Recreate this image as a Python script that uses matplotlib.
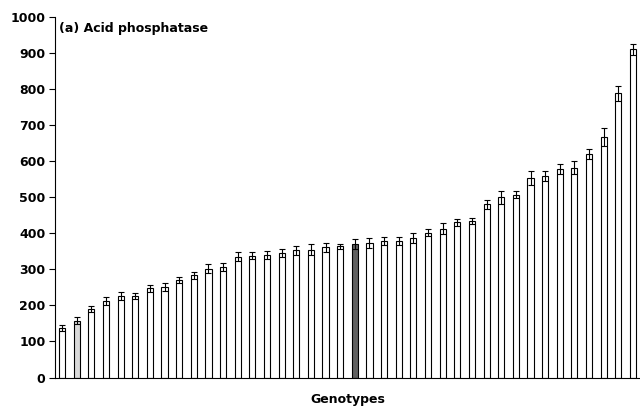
import matplotlib
matplotlib.use("Agg")
import matplotlib.pyplot as plt
import numpy as np

genotype_index = list(range(1, 41))
activity = [138, 158, 190, 212, 227, 227, 247, 250, 270, 284,
            302, 307, 335, 338, 340, 345, 353, 354, 361, 364,
            370, 373, 379, 379, 387, 402, 413, 431, 434, 480,
            500, 507, 553, 559, 578, 582, 620, 667, 788, 910]
errors = [8, 10, 7, 12, 11, 8, 10, 11, 9, 10,
          12, 11, 12, 10, 12, 12, 13, 15, 12, 7,
          14, 13, 12, 12, 15, 10, 15, 10, 8, 12,
          18, 10, 20, 14, 13, 18, 14, 25, 22, 14]
highlight_light = 2   # genotype shown in light gray
highlight_dark = 21   # genotype shown in dark gray

plt.rcParams['font.family'] = ['DejaVu Sans']

fig = plt.figure(figsize=(6.4, 4.12), dpi=100)
ax = fig.add_axes([0.086, 0.0837, 0.914, 0.875])

colors = []
for g in genotype_index:
    if g == highlight_light:
        colors.append('#d9d9d9')
    elif g == highlight_dark:
        colors.append('#606060')
    else:
        colors.append('white')

x = np.arange(len(activity))
ax.bar(x, activity, width=0.42, color=colors, edgecolor='black', linewidth=0.8, zorder=2)
ax.errorbar(x, activity, yerr=errors, fmt='none', ecolor='black', elinewidth=0.8,
            capsize=2.2, capthick=0.8, zorder=3)

ax.set_xlim(-0.48, 39.48)
ax.set_ylim(0, 1000)
ax.set_yticks(range(0, 1001, 100))
ax.set_xticks([])
ax.spines['top'].set_visible(False)
ax.spines['right'].set_visible(False)
ax.spines['left'].set_linewidth(0.8)
ax.spines['bottom'].set_linewidth(0.8)
ax.tick_params(axis='y', direction='out', length=4, width=0.8, labelsize=9, pad=3)
for lab in ax.get_yticklabels():
    lab.set_fontweight('bold')

ax.set_xlabel('Genotypes', fontsize=9, fontweight='bold', labelpad=11)
ax.text(0.007, 0.985, '(a) Acid phosphatase', transform=ax.transAxes,
        fontsize=9, fontweight='bold', va='top', ha='left')

fig.savefig('out.png', dpi=100)
